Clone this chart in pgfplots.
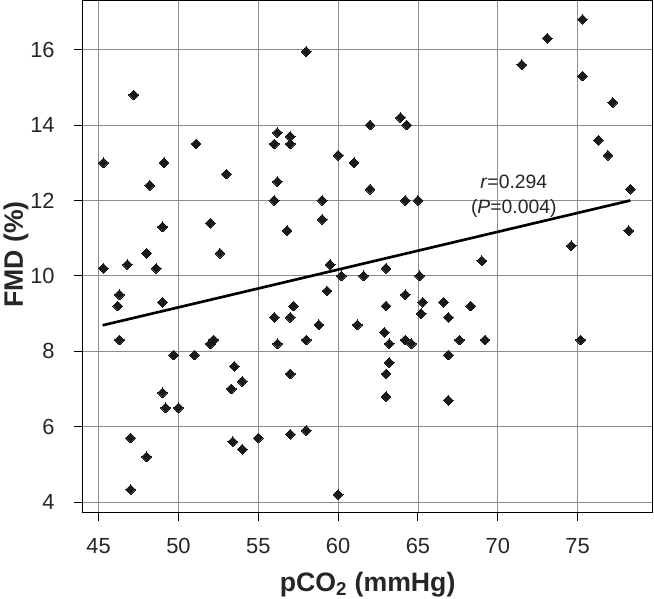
\documentclass[border=0pt]{standalone}
\usepackage{pgfplots}
\pgfplotsset{compat=1.18}
\usepackage{fontspec}
\setmainfont{Liberation Sans}
\definecolor{pt}{HTML}{1A1A1A}
\definecolor{gridc}{HTML}{8C8C8C}
\begin{document}
\begin{tikzpicture}
\begin{axis}[
  scale only axis,
  width=427.5pt, height=384pt,
  xmin=44.0, xmax=79.7, ymin=3.72, ymax=17.3,
  xtick={45,50,...,75}, ytick={4,6,...,16},
  grid=major,
  grid style={gridc, line width=0.6pt},
  axis line style={black, line width=1pt},
  tick align=outside, tick pos=left,
  major tick length=6.5pt,
  every tick/.style={black, line width=0.8pt},
  /pgf/number format/assume math mode=true,
  tick label style={font=\fontsize{16.4}{19}\selectfont, color=black!85},
  yticklabel style={xshift=-11pt},
  xticklabel style={yshift=-9.5pt},
  xlabel={pCO\textsubscript{2} (mmHg)},
  ylabel={FMD (\%)},
  label style={font=\fontsize{20}{24}\selectfont\bfseries, color=black!85},
  xlabel style={at={(axis description cs:0.5,0)}, anchor=base, yshift=-59pt},
  ylabel style={at={(axis description cs:-0.117,0.504)}, anchor=center},
  clip=false,
]
\addplot[only marks, mark=square*, mark size=2.6pt, mark options={rotate=45, fill=pt, draw=pt, line width=0pt}] coordinates {
(45.3,13.0) (45.3,10.2) (46.2,9.2) (46.3,9.5) (46.3,8.3) (46.8,10.3) (47.2,14.8)
(47.0,5.7) (47.0,4.33) (48.0,10.6) (48.2,12.4) (48.0,5.2) (48.6,10.2) (49.0,11.3)
(49.1,13.0) (49.0,9.3) (49.0,6.9) (49.2,6.5) (49.7,7.9) (50.0,6.5) (51.0,7.9)
(51.1,13.5) (52.0,11.4) (52.0,8.2) (52.2,8.3) (52.6,10.6) (53.0,12.7) (53.3,7.0)
(53.5,7.6) (54.0,7.2) (53.4,5.6) (54.0,5.4) (55.0,5.7) (56.0,13.5) (56.2,13.8)
(56.0,12.0) (56.2,12.5) (56.0,8.9) (56.2,8.2) (56.8,11.2) (57.0,13.7) (57.0,13.5)
(57.0,8.9) (57.2,9.2) (57.0,7.4) (57.0,5.8) (58.0,15.95) (58.0,8.3) (58.0,5.9)
(58.8,8.7) (59.0,12.0) (59.0,11.5) (59.3,9.6) (59.5,10.3) (60.0,13.2) (60.2,10.0)
(60.0,4.2) (61.0,13.0) (61.2,8.7) (61.6,10.0) (62.0,14.0) (62.0,12.3) (62.9,8.5)
(63.0,10.2) (63.0,9.2) (63.2,8.2) (63.2,7.7) (63.0,7.4) (63.0,6.8) (63.9,14.2)
(64.3,14.0) (64.2,12.0) (65.0,12.0) (64.2,9.5) (64.2,8.3) (64.6,8.2) (65.1,10.0)
(65.3,9.3) (65.2,9.0) (66.6,9.3) (66.9,8.9) (66.9,7.9) (66.9,6.7) (67.6,8.3)
(68.3,9.2) (69.0,10.4) (69.2,8.3) (71.5,15.6) (73.1,16.3) (74.6,10.8) (75.2,8.3)
(75.3,16.8) (75.3,15.3) (76.3,13.6) (76.9,13.2) (77.2,14.6) (78.3,12.3) (78.2,11.2)
};
\addplot[black, line width=2pt] coordinates {(45.25,8.69) (78.3,12.0)};
\node[font=\fontsize{14.5}{17}\selectfont, text=black!85] at (axis cs:71.0,12.49) {\textit{r}=0.294};
\node[font=\fontsize{14.5}{17}\selectfont, text=black!85] at (axis cs:71.0,11.80) {(\textit{P}=0.004)};
\coordinate (ll) at (rel axis cs:0,0);
\coordinate (ur) at (rel axis cs:1,1);
\end{axis}
\pgfresetboundingbox
\path ([xshift=-62pt,yshift=-64.5pt]ll) rectangle ([xshift=1pt,yshift=0.5pt]ur);
\end{tikzpicture}
\end{document}
